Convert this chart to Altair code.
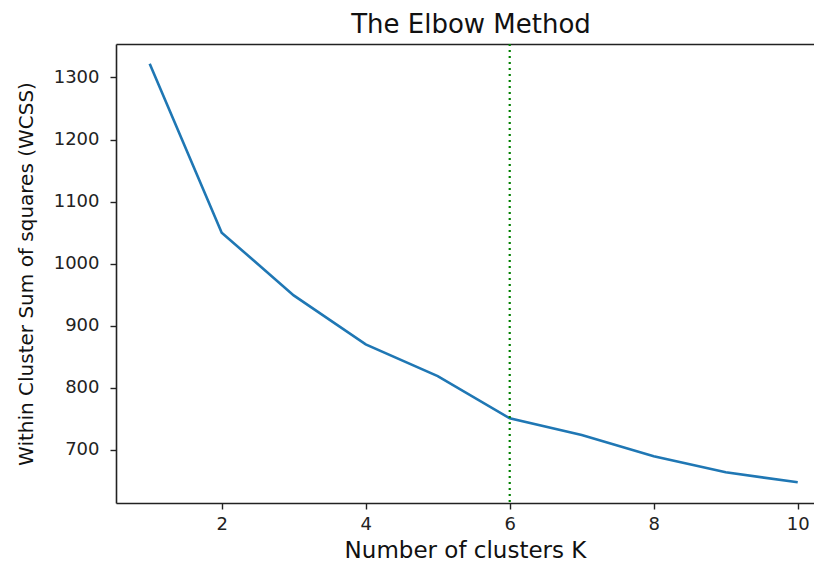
import altair as alt
import pandas as pd

k_values = [1, 2, 3, 4, 5, 6, 7, 8, 9, 10]
wcss = [1322, 1050, 949, 870, 819, 751, 724, 690, 664, 648]
elbow_k = [6]
x_ticks = [2, 4, 6, 8, 10]
y_ticks = [700, 800, 900, 1000, 1100, 1200, 1300]

df = pd.DataFrame({"k": k_values, "wcss": wcss})
df_elbow = pd.DataFrame({"k": elbow_k})

FONT = "DejaVu Sans"
xscale = alt.Scale(domain=[0.532, 10.226], nice=False, zero=False)
yscale = alt.Scale(domain=[614.6, 1353.8], nice=False, zero=False)

line = alt.Chart(df).mark_line(color="#1f77b4", strokeWidth=2.6).encode(
    x=alt.X("k:Q", scale=xscale,
            axis=alt.Axis(values=x_ticks, title="Number of clusters K", grid=False,
                          format="d",
                          domainColor="#222", domainWidth=1.6, tickColor="#222",
                          tickWidth=1.4, tickSize=6, labelFontSize=18, labelColor="#222",
                          labelPadding=6, labelFont=FONT, titleFont=FONT,
                          titleFontSize=23, titleFontWeight="normal", titleColor="#111",
                          titlePadding=6)),
    y=alt.Y("wcss:Q", scale=yscale,
            axis=alt.Axis(values=y_ticks, title="Within Cluster Sum of squares (WCSS)",
                          format="d",
                          grid=False, domainColor="#222", domainWidth=1.6, tickColor="#222",
                          tickWidth=1.4, tickSize=6, labelFontSize=18, labelColor="#222",
                          labelPadding=11, labelFont=FONT, titleFont=FONT,
                          titleFontSize=20, titleFontWeight="normal", titleColor="#111",
                          titlePadding=17)),
)

vline = alt.Chart(df_elbow).mark_rule(color="green", strokeWidth=2.2,
                                      strokeDash=[2, 4]).encode(
    x=alt.X("k:Q", scale=xscale,
            axis=alt.Axis(orient="top", labels=False, ticks=False, title=None,
                          grid=False, domainColor="#222", domainWidth=1.6)),
)

chart = alt.layer(line, vline).resolve_axis(x="independent").properties(
    width=698,
    height=459,
    autosize=alt.AutoSizeParams(type="none"),
    padding={"left": 108, "top": 36, "right": 0, "bottom": 60},
    title=alt.TitleParams("The Elbow Method", font=FONT, fontSize=26,
                          fontWeight="normal", color="#111", anchor="middle",
                          dx=6, offset=5),
).configure_view(stroke=None)

chart.save("out.html", embed_options={"renderer": "svg", "actions": False})
